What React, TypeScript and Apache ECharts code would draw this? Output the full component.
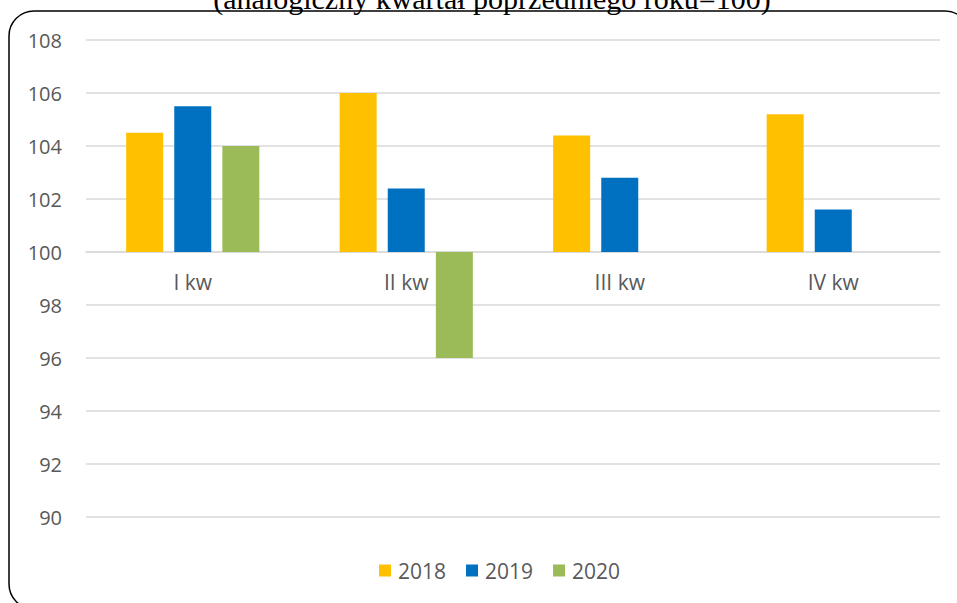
import React, { useEffect, useRef } from "react";
import * as echarts from "echarts";

const TITLE = "(analogiczny kwartał poprzedniego roku=100)";
const categories = ["I kw", "II kw", "III kw", "IV kw"];
const seriesNames = ["2018", "2019", "2020"];
const values2018 = [104.5, 106.0, 104.4, 105.2];
const values2019 = [105.5, 102.4, 102.8, 101.6];
const values2020: (number | null)[] = [104.0, 96.0, null, null];
const colors = ["#FFC000", "#0070C0", "#9BBB59"];
const BASE = 100;
const Y_MIN = 90;
const Y_MAX = 108;
const Y_STEP = 2;

const FONT = "'Open Sans', 'Noto Sans', sans-serif";

const GRID_TOP = 40;
const GRID_BOTTOM = 86;
const PLOT_H = 603 - GRID_TOP - GRID_BOTTOM;

export default function App() {
  const ref = useRef<HTMLDivElement>(null);

  useEffect(() => {
    if (!ref.current) return;
    const chart = echarts.init(ref.current, null, { renderer: "svg" });
    const all = [values2018, values2019, values2020];
    // offset to move the category axis up to the BASE line
    const axisOffset = -((BASE - Y_MIN) / (Y_MAX - Y_MIN)) * PLOT_H;
    chart.setOption({
      animation: false,
      backgroundColor: "#ffffff",
      textStyle: { fontFamily: FONT },
      graphic: [
        {
          type: "rect",
          z: 100,
          silent: true,
          shape: { x: 9, y: 11, width: 961, height: 598, r: 25 },
          style: { fill: "none", stroke: "#000000", lineWidth: 1.5 },
        },
        {
          type: "text",
          z: 101,
          silent: true,
          x: 492,
          y: 13,
          style: {
            text: TITLE,
            font: "30px 'Liberation Serif', 'DejaVu Serif', serif",
            fill: "#000000",
            align: "center",
            verticalAlign: "bottom",
          },
        },
      ],
      legend: {
        data: seriesNames,
        left: 374,
        top: 555,
        icon: "rect",
        itemWidth: 12,
        itemHeight: 12,
        itemGap: 20,
        textStyle: { fontSize: 21, color: "#595959", fontFamily: FONT, padding: [0, 0, 0, 2] },
      },
      grid: { left: 86, right: 17, top: GRID_TOP, bottom: GRID_BOTTOM, containLabel: false },
      xAxis: {
        type: "category",
        data: categories,
        position: "bottom",
        offset: axisOffset,
        axisLine: { onZero: false, lineStyle: { color: "#d9d9d9", width: 1.5 } },
        axisTick: { show: false },
        axisLabel: { fontSize: 21, color: "#595959", margin: 19, fontFamily: FONT },
        splitLine: { show: false },
        z: 1,
      },
      yAxis: {
        type: "value",
        min: Y_MIN - BASE,
        max: Y_MAX - BASE,
        interval: Y_STEP,
        axisLine: { show: false },
        axisTick: { show: false },
        axisLabel: {
          fontSize: 20,
          color: "#595959",
          margin: 24,
          fontFamily: FONT,
          formatter: (v: number) => String(Math.round(v + BASE)),
        },
        splitLine: { lineStyle: { color: "#d9d9d9", width: 1.5 } },
      },
      series: seriesNames.map((name, i) => ({
        name,
        type: "bar",
        barWidth: 37,
        barGap: "30%",
        z: 3,
        itemStyle: { color: colors[i] },
        data: all[i].map((v) => (v == null ? null : +(v - BASE).toFixed(2))),
      })),
    });
    return () => chart.dispose();
  }, []);

  return (
    <div
      ref={ref}
      style={{ position: "fixed", left: 0, top: 0, width: 957, height: 603 }}
    />
  );
}
